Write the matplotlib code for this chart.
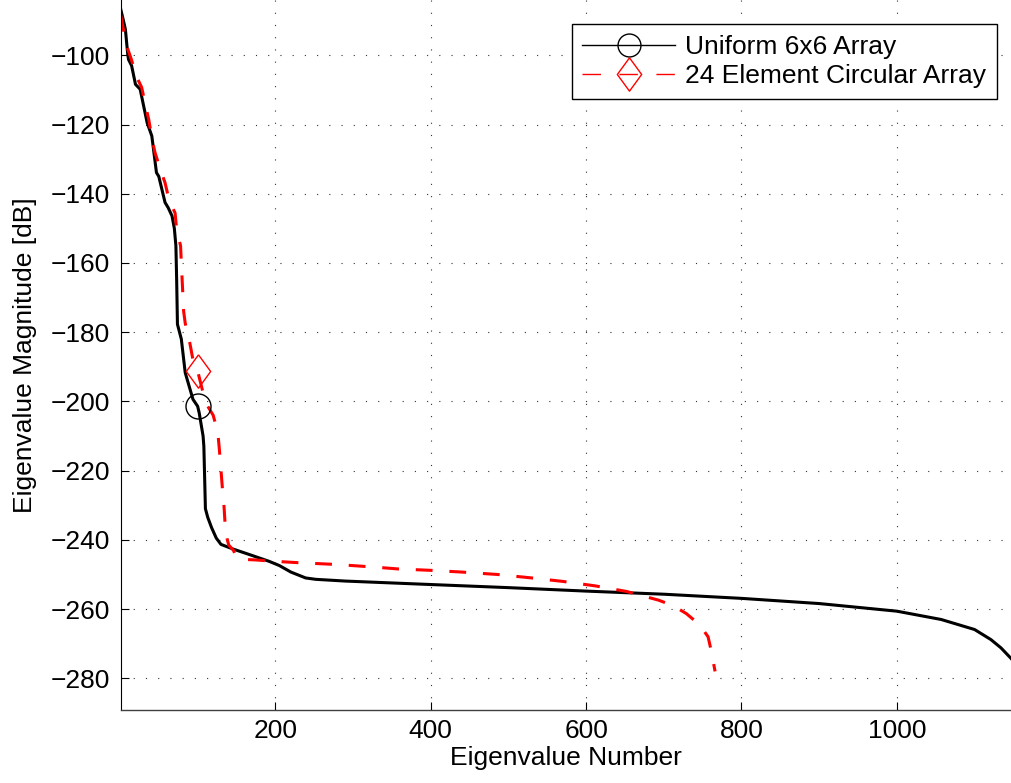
import matplotlib
matplotlib.use("Agg")
import matplotlib.pyplot as plt
from matplotlib.lines import Line2D

plt.rcParams['font.family'] = ['Liberation Sans', 'DejaVu Sans']

# eigenvalue spectra (index, magnitude in dB)
uniform_x = [1, 4, 7, 10, 11, 15, 20, 26, 35, 41, 47, 50, 58, 62, 67, 70, 72, 73,
             74, 79, 84, 94, 100, 102, 107, 108, 110, 113, 118, 124, 130, 145, 170,
             192, 205, 220, 239, 252, 290, 400, 500, 600, 700, 800, 900, 1000, 1057,
             1100, 1121, 1134, 1148, 1152]
uniform_db = [-86.7, -89.5, -92.5, -99.7, -101.2, -103.0, -108.4, -109.8, -119.5,
              -123.3, -133.9, -135.0, -142.5, -144.0, -146.4, -150.0, -155.0, -165.0,
              -177.7, -182.0, -191.7, -199.4, -201.4, -203.3, -210.0, -213.0, -231.0,
              -233.5, -236.5, -239.5, -241.3, -242.6, -244.5, -246.2, -247.4, -249.3,
              -251.0, -251.4, -251.9, -252.9, -253.8, -254.8, -255.7, -256.9, -258.4,
              -260.6, -263.0, -265.9, -268.8, -271.2, -274.5, -276.0]

circ_x = [1, 4, 9, 15, 21, 28, 33, 37, 41, 45, 52, 58, 63, 71, 73, 78, 79, 82, 84,
          90, 94, 100, 107, 113, 120, 126, 128, 132, 134, 136, 140, 146, 150, 155,
          175, 192, 230, 278, 330, 358, 400, 440, 486, 530, 570, 612, 652, 693, 712,
          729, 746, 757, 761, 766]
circ_db = [-88.4, -92.0, -97.5, -101.4, -106.0, -109.3, -114.6, -118.5, -123.7,
           -128.0, -133.0, -136.8, -141.6, -145.6, -150.5, -155.0, -160.0, -174.0,
           -177.4, -183.2, -188.0, -191.2, -197.5, -201.4, -204.0, -209.0, -214.0,
           -225.5, -230.5, -238.0, -241.5, -243.0, -245.0, -245.6, -245.8, -246.1,
           -246.6, -247.1, -247.9, -248.4, -248.8, -249.3, -250.0, -251.0, -252.0,
           -253.3, -254.9, -257.4, -259.0, -261.3, -264.5, -268.0, -272.0, -278.0]

labels = ['Uniform 6x6 Array', '24 Element Circular Array']
marker_at = 100
xticks = [200, 400, 600, 800, 1000]
yticks = [-100, -120, -140, -160, -180, -200, -220, -240, -260, -280]

diamond = [(0, 1), (0.73, 0), (0, -1), (-0.73, 0), (0, 1)]

fig = plt.figure(figsize=(10.12, 7.83), dpi=100)
ax = fig.add_axes([0.1193, 0.0932, 0.8807, 0.9068])

ax.plot(uniform_x, uniform_db, color='black', lw=2.2, solid_joinstyle='round')
ax.plot(circ_x, circ_db, color='red', lw=2.2, linestyle=(0, (5.5, 5.5)))

# single marker on each curve at eigenvalue 100
i = uniform_x.index(marker_at)
ax.plot(uniform_x[i], uniform_db[i], marker='o', ms=18, mfc='none',
        mec='black', mew=1.0, ls='none')
j = circ_x.index(marker_at)
ax.plot(circ_x[j], circ_db[j], marker=diamond, ms=24, mfc='none',
        mec='red', mew=1.0, ls='none')

ax.set_xlim(1, 1148.2)
ax.set_ylim(-289.16, -84.02)
ax.set_xticks(xticks)
ax.set_yticks(yticks)
ax.tick_params(direction='in', length=6, width=0.8, labelsize=19)
ax.tick_params(axis='y', pad=7.7)
ax.tick_params(axis='x', pad=6.5)
ax.grid(True, color='#333333', linestyle=(0, (1, 10)), lw=0.8)
ax.spines['top'].set_visible(False)
ax.spines['right'].set_visible(False)
ax.spines['bottom'].set_color('#404040')
ax.spines['bottom'].set_linewidth(1.0)
ax.spines['left'].set_linewidth(0.8)

ax.set_xlabel('Eigenvalue Number', fontsize=19, labelpad=2)
ax.set_ylabel('Eigenvalue Magnitude [dB]', fontsize=19, labelpad=10)

handles = [
    Line2D([], [], color='black', lw=1.0, marker='o', ms=16.5, mfc='none', mec='black', mew=1.0),
    Line2D([], [], color='red', lw=1.0, linestyle=(0, (13.3, 13.3)), marker=diamond, ms=24,
           mfc='none', mec='red', mew=1.0),
]
leg = ax.legend(handles, labels, loc='upper right', bbox_to_anchor=(0.985, 0.969),
                bbox_transform=fig.transFigure, fontsize=19, frameon=True,
                fancybox=False, edgecolor='black', framealpha=1, borderpad=0.4,
                borderaxespad=0, handlelength=3.5, handletextpad=0.4,
                labelspacing=0.2)
leg.get_frame().set_linewidth(1.0)

fig.savefig('out.png', dpi=100)
